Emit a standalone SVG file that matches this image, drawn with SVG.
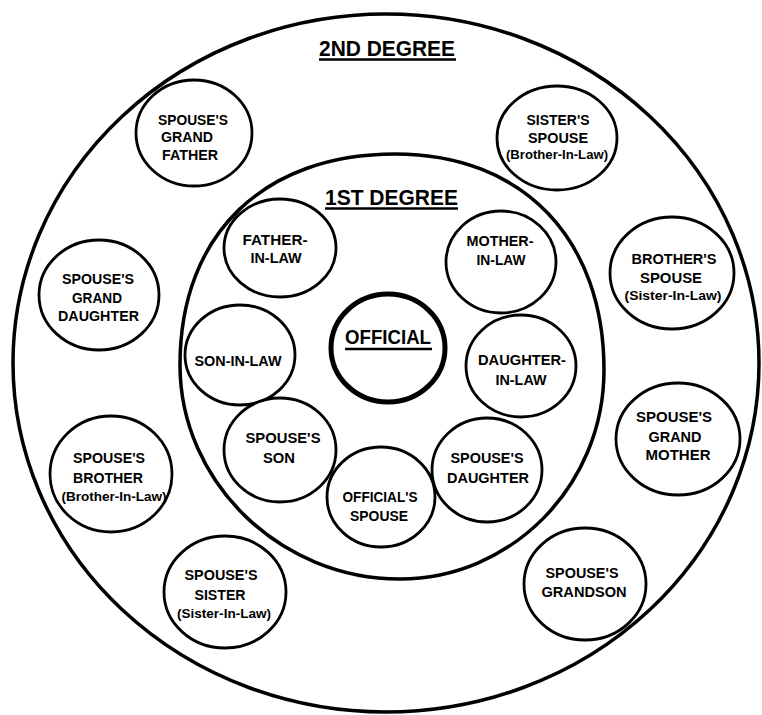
<svg xmlns="http://www.w3.org/2000/svg" width="762" height="715" viewBox="0 0 762 715">
<style>
  .ring { fill: none; stroke: #000; stroke-width: 3.5; }
  .node { fill: #fff; stroke: #000; stroke-width: 2.8; }
  .center { fill: #fff; stroke: #000; stroke-width: 5; }
  text { font-family: "Liberation Sans", Arial, sans-serif; font-weight: bold; fill: #000; text-anchor: middle; }
  .t { font-size: 14px; }
  .p { font-size: 12px; }
  .h { font-size: 22px; }
  .ul { stroke: #000; stroke-width: 2.5; }
</style>
<rect width="762" height="715" fill="#fff"/>

<g id="ring-2nd-degree">
  <ellipse class="ring" cx="386" cy="363" rx="373" ry="349"/>
  <text class="h" x="387" y="56" textLength="136" lengthAdjust="spacingAndGlyphs">2ND DEGREE</text>
  <line class="ul" x1="319" y1="59.5" x2="456" y2="59.5"/>
</g>

<g id="ring-1st-degree">
  <path class="ring" d="M395,154 C524,154 604,240 604,370 C604,487 510,579 400,579 C280,579 180,482 180,365 C180,232 266,154 395,154 Z"/>
  <text class="h" x="391.5" y="205" textLength="133" lengthAdjust="spacingAndGlyphs">1ST DEGREE</text>
  <line class="ul" x1="325" y1="208.5" x2="458" y2="208.5"/>
</g>

<g id="connectors"></g>

<g id="official">
  <ellipse class="center" cx="388" cy="348" rx="57" ry="54"/>
  <text class="h" x="388" y="344" style="font-size:21px" textLength="86" lengthAdjust="spacingAndGlyphs">OFFICIAL</text>
  <line class="ul" x1="345" y1="349" x2="432" y2="349"/>
</g>

<g id="father-in-law">
  <ellipse class="node" cx="280" cy="248" rx="56" ry="49"/>
  <text class="t" x="275" y="245" textLength="65" lengthAdjust="spacingAndGlyphs">FATHER-</text>
  <text class="t" x="276" y="263" textLength="51" lengthAdjust="spacingAndGlyphs">IN-LAW</text>
</g>

<g id="mother-in-law">
  <ellipse class="node" cx="501" cy="262" rx="55" ry="51"/>
  <text class="t" x="500" y="246" textLength="67" lengthAdjust="spacingAndGlyphs">MOTHER-</text>
  <text class="t" x="501" y="265" textLength="49" lengthAdjust="spacingAndGlyphs">IN-LAW</text>
</g>

<g id="son-in-law">
  <ellipse class="node" cx="240" cy="355" rx="55" ry="50"/>
  <text class="t" x="238" y="366" textLength="87" lengthAdjust="spacingAndGlyphs">SON-IN-LAW</text>
</g>

<g id="daughter-in-law">
  <ellipse class="node" cx="521" cy="366" rx="55" ry="51"/>
  <text class="t" x="522" y="365" textLength="88" lengthAdjust="spacingAndGlyphs">DAUGHTER-</text>
  <text class="t" x="521" y="385" textLength="51" lengthAdjust="spacingAndGlyphs">IN-LAW</text>
</g>

<g id="spouses-son">
  <ellipse class="node" cx="280" cy="450" rx="56" ry="52"/>
  <text class="t" x="283" y="443" textLength="75" lengthAdjust="spacingAndGlyphs">SPOUSE'S</text>
  <text class="t" x="279" y="463" textLength="32" lengthAdjust="spacingAndGlyphs">SON</text>
</g>

<g id="officials-spouse">
  <ellipse class="node" cx="381" cy="497" rx="54" ry="50"/>
  <text class="t" x="380" y="502" textLength="75" lengthAdjust="spacingAndGlyphs">OFFICIAL'S</text>
  <text class="t" x="379" y="521" textLength="58" lengthAdjust="spacingAndGlyphs">SPOUSE</text>
</g>

<g id="spouses-daughter">
  <ellipse class="node" cx="487" cy="470" rx="55" ry="52"/>
  <text class="t" x="487" y="463" textLength="73" lengthAdjust="spacingAndGlyphs">SPOUSE'S</text>
  <text class="t" x="488" y="483" textLength="82" lengthAdjust="spacingAndGlyphs">DAUGHTER</text>
</g>

<g id="spouses-grandfather">
  <ellipse class="node" cx="194" cy="133" rx="58" ry="53"/>
  <text class="t" x="193" y="125" textLength="70" lengthAdjust="spacingAndGlyphs">SPOUSE'S</text>
  <text class="t" x="187" y="142" textLength="52" lengthAdjust="spacingAndGlyphs">GRAND</text>
  <text class="t" x="190" y="160" textLength="56" lengthAdjust="spacingAndGlyphs">FATHER</text>
</g>

<g id="sisters-spouse">
  <ellipse class="node" cx="557" cy="138" rx="60" ry="52"/>
  <text class="t" x="558" y="125" textLength="63" lengthAdjust="spacingAndGlyphs">SISTER'S</text>
  <text class="t" x="558" y="143" textLength="60" lengthAdjust="spacingAndGlyphs">SPOUSE</text>
  <text class="p" x="557" y="159" textLength="102" lengthAdjust="spacingAndGlyphs">(Brother-In-Law)</text>
</g>

<g id="spouses-granddaughter">
  <ellipse class="node" cx="99" cy="295" rx="60" ry="55"/>
  <text class="t" x="98" y="284" textLength="72" lengthAdjust="spacingAndGlyphs">SPOUSE'S</text>
  <text class="t" x="97" y="303" textLength="50" lengthAdjust="spacingAndGlyphs">GRAND</text>
  <text class="t" x="98.5" y="321" textLength="81" lengthAdjust="spacingAndGlyphs">DAUGHTER</text>
</g>

<g id="brothers-spouse">
  <ellipse class="node" cx="672" cy="273" rx="62" ry="56"/>
  <text class="t" x="674" y="264" textLength="85" lengthAdjust="spacingAndGlyphs">BROTHER'S</text>
  <text class="t" x="671" y="283" textLength="62" lengthAdjust="spacingAndGlyphs">SPOUSE</text>
  <text class="p" x="673" y="300" textLength="97" lengthAdjust="spacingAndGlyphs">(Sister-In-Law)</text>
</g>

<g id="spouses-grandmother">
  <ellipse class="node" cx="678" cy="439" rx="62" ry="56"/>
  <text class="t" x="674" y="422" textLength="76" lengthAdjust="spacingAndGlyphs">SPOUSE'S</text>
  <text class="t" x="675" y="442" textLength="53" lengthAdjust="spacingAndGlyphs">GRAND</text>
  <text class="t" x="678" y="460" textLength="65" lengthAdjust="spacingAndGlyphs">MOTHER</text>
</g>

<g id="spouses-brother">
  <ellipse class="node" cx="111" cy="474" rx="61" ry="58"/>
  <text class="t" x="109" y="463" textLength="72" lengthAdjust="spacingAndGlyphs">SPOUSE'S</text>
  <text class="t" x="108" y="483" textLength="70" lengthAdjust="spacingAndGlyphs">BROTHER</text>
  <text class="p" x="114" y="501" textLength="105" lengthAdjust="spacingAndGlyphs">(Brother-In-Law)</text>
</g>

<g id="spouses-sister">
  <ellipse class="node" cx="225" cy="592" rx="61" ry="56"/>
  <text class="t" x="221" y="580" textLength="73" lengthAdjust="spacingAndGlyphs">SPOUSE'S</text>
  <text class="t" x="220" y="600" textLength="51" lengthAdjust="spacingAndGlyphs">SISTER</text>
  <text class="p" x="224" y="618" textLength="94" lengthAdjust="spacingAndGlyphs">(Sister-In-Law)</text>
</g>

<g id="spouses-grandson">
  <ellipse class="node" cx="585" cy="584" rx="61" ry="56"/>
  <text class="t" x="582" y="578" textLength="73" lengthAdjust="spacingAndGlyphs">SPOUSE'S</text>
  <text class="t" x="584" y="597" textLength="85" lengthAdjust="spacingAndGlyphs">GRANDSON</text>
</g>
</svg>
